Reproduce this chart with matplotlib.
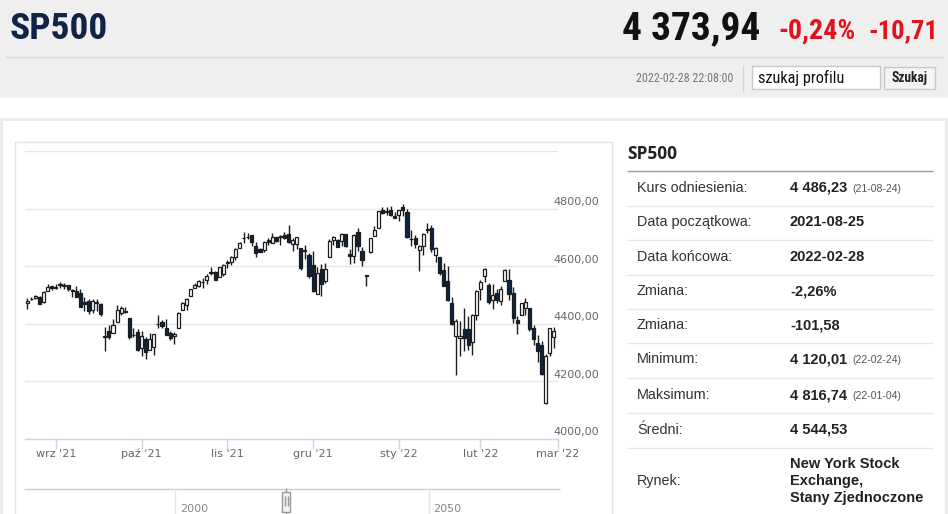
import matplotlib
matplotlib.use("Agg")
import matplotlib.pyplot as plt
from matplotlib.patches import Rectangle
from matplotlib import font_manager as fm
from matplotlib.transforms import blended_transform_factory

# ---------------- data ----------------
dates = ["2021-08-23","2021-08-24","2021-08-25","2021-08-26","2021-08-27","2021-08-30","2021-08-31",
 "2021-09-01","2021-09-02","2021-09-03","2021-09-07","2021-09-08","2021-09-09","2021-09-10","2021-09-13",
 "2021-09-14","2021-09-15","2021-09-16","2021-09-17","2021-09-20","2021-09-21","2021-09-22","2021-09-23",
 "2021-09-24","2021-09-27","2021-09-28","2021-09-29","2021-09-30",
 "2021-10-01","2021-10-04","2021-10-05","2021-10-06","2021-10-07","2021-10-08","2021-10-11","2021-10-12",
 "2021-10-13","2021-10-14","2021-10-15","2021-10-18","2021-10-19","2021-10-20","2021-10-21","2021-10-22",
 "2021-10-25","2021-10-26","2021-10-27","2021-10-28","2021-10-29",
 "2021-11-01","2021-11-02","2021-11-03","2021-11-04","2021-11-05","2021-11-08","2021-11-09","2021-11-10",
 "2021-11-11","2021-11-12","2021-11-15","2021-11-16","2021-11-17","2021-11-18","2021-11-19","2021-11-22",
 "2021-11-23","2021-11-24","2021-11-26","2021-11-29","2021-11-30",
 "2021-12-01","2021-12-02","2021-12-03","2021-12-06","2021-12-07","2021-12-08","2021-12-09","2021-12-10",
 "2021-12-13","2021-12-14","2021-12-15","2021-12-16","2021-12-17","2021-12-20","2021-12-22","2021-12-23",
 "2021-12-27","2021-12-28","2021-12-29","2021-12-30","2021-12-31",
 "2022-01-03","2022-01-04","2022-01-05","2022-01-06","2022-01-07","2022-01-10","2022-01-11","2022-01-12",
 "2022-01-13","2022-01-14","2022-01-18","2022-01-19","2022-01-20","2022-01-21","2022-01-24","2022-01-25",
 "2022-01-26","2022-01-27","2022-01-28","2022-01-31",
 "2022-02-01","2022-02-02","2022-02-03","2022-02-04","2022-02-07","2022-02-08","2022-02-09","2022-02-10",
 "2022-02-11","2022-02-14","2022-02-15","2022-02-16","2022-02-17","2022-02-18","2022-02-22","2022-02-23",
 "2022-02-24","2022-02-25","2022-02-28"]

opens = [4471.0,4484.4,4490.5,4493.8,4474.1,4513.8,4529.8,
 4528.8,4534.5,4532.4,4535.4,4518.1,4513.0,4506.9,4474.8,4479.3,4447.5,4477.1,4469.7,4355.0,4374.5,4367.4,
 4406.8,4438.0,4442.1,4419.5,4362.4,4370.7,
 4317.2,4348.8,4309.9,4319.6,4398.0,4406.5,4385.4,4368.3,4358.0,4386.8,4447.7,4463.7,4497.3,4524.4,4532.2,
 4546.1,4553.7,4578.7,4580.2,4562.8,4572.9,
 4610.6,4613.3,4630.7,4662.9,4699.3,4701.5,4707.3,4670.3,4659.4,4655.2,4689.3,4679.4,4701.5,4700.7,4708.4,
 4712.0,4678.5,4675.8,4664.6,4652.0,4640.2,
 4602.8,4504.7,4589.5,4548.4,4632.0,4690.9,4691.0,4687.6,4710.3,4642.0,4636.5,4719.1,4652.5,4565.0,4650.4,
 4704.0,4734.0,4795.5,4788.6,4794.2,4775.2,
 4778.1,4804.5,4788.0,4693.4,4697.7,4655.3,4669.1,4728.6,4733.6,4638.0,4632.2,4588.0,4547.4,4471.4,4356.3,
 4352.0,4380.6,4380.6,4336.2,4431.8,
 4519.6,4566.4,4535.4,4482.8,4505.8,4480.0,4547.0,4553.2,4506.3,4412.6,4429.3,4455.8,4456.1,4385.0,4332.7,
 4324.9,4125.0,4298.4,4354.2]

highs = [4489.9,4492.8,4501.7,4495.9,4513.3,4537.4,4531.4,
 4537.1,4545.9,4541.5,4535.4,4521.8,4529.9,4520.5,4492.0,4485.7,4486.9,4485.9,4471.5,4390.0,4394.9,4416.8,
 4465.4,4463.1,4457.3,4419.5,4385.6,4382.6,
 4375.2,4355.5,4369.2,4365.6,4430.0,4412.0,4415.9,4374.9,4372.9,4439.7,4475.8,4488.8,4520.4,4540.9,4551.4,
 4559.7,4572.6,4598.5,4584.6,4597.6,4608.1,
 4620.3,4635.2,4663.5,4683.0,4718.5,4714.9,4708.5,4684.9,4664.6,4688.5,4697.4,4715.0,4701.5,4708.8,4717.8,
 4743.8,4699.4,4702.9,4664.6,4673.0,4646.0,
 4652.9,4595.5,4608.0,4612.6,4694.0,4705.1,4695.3,4713.6,4710.3,4660.5,4712.6,4732.0,4666.7,4570.0,4697.7,
 4740.7,4791.5,4807.0,4804.1,4808.9,4786.8,
 4796.6,4816.74,4797.7,4725.0,4708.0,4673.0,4714.1,4749.0,4744.1,4665.1,4632.2,4611.6,4602.1,4494.5,4417.4,
 4411.0,4453.2,4428.7,4432.7,4516.9,
 4550.5,4595.3,4542.9,4539.7,4521.9,4531.3,4590.0,4588.9,4526.3,4426.2,4472.8,4489.5,4456.1,4394.8,4362.1,
 4341.5,4294.7,4385.3,4388.8]

lows = [4450.3,4482.7,4485.7,4469.0,4472.1,4513.8,4515.8,
 4522.0,4524.7,4521.9,4513.0,4493.9,4492.1,4457.7,4445.7,4435.5,4438.4,4443.8,4427.8,4305.9,4348.0,4367.4,
 4406.8,4430.3,4436.2,4346.3,4355.1,4306.2,
 4288.5,4278.9,4309.9,4290.5,4383.7,4386.2,4360.6,4342.1,4329.9,4386.8,4447.7,4447.5,4496.4,4524.4,4526.9,
 4524.0,4537.4,4569.2,4551.7,4562.8,4567.6,
 4595.1,4604.0,4621.2,4662.6,4681.3,4694.4,4670.9,4630.9,4648.3,4650.8,4672.9,4679.4,4684.4,4672.8,4694.2,
 4682.2,4652.7,4659.9,4585.4,4625.3,4560.0,
 4510.3,4504.7,4495.1,4540.5,4632.0,4674.5,4666.0,4670.2,4667.6,4606.5,4611.2,4651.9,4600.2,4531.1,4645.5,
 4704.0,4734.0,4780.0,4778.1,4775.3,4765.8,
 4758.2,4774.3,4699.4,4671.3,4663.7,4582.2,4638.3,4716.1,4650.3,4614.8,4568.7,4530.2,4478.0,4395.3,4222.6,
 4287.1,4304.8,4309.5,4292.5,4414.0,
 4484.0,4544.3,4470.4,4451.5,4471.5,4465.4,4547.0,4484.3,4401.4,4364.8,4429.3,4429.7,4373.8,4327.2,4267.1,
 4221.5,4120.01,4286.8,4315.1]

closes = [4479.5,4486.2,4496.2,4470.0,4509.4,4528.8,4522.7,
 4524.1,4537.0,4535.4,4520.0,4514.1,4493.3,4458.6,4468.7,4443.1,4480.7,4473.8,4433.0,4357.7,4354.2,4395.6,
 4449.0,4455.5,4443.1,4352.6,4359.5,4307.5,
 4357.0,4300.5,4345.7,4363.6,4399.8,4391.3,4361.2,4350.7,4363.8,4438.3,4471.4,4486.5,4519.6,4536.2,4549.8,
 4544.9,4566.5,4574.8,4551.7,4596.4,4605.4,
 4613.7,4630.7,4660.6,4680.1,4697.5,4701.7,4685.3,4646.7,4649.3,4682.9,4682.8,4700.9,4688.7,4704.5,4698.0,
 4682.9,4690.7,4701.5,4594.6,4655.3,4567.0,
 4513.0,4577.1,4538.4,4591.7,4686.8,4701.2,4667.5,4712.0,4669.0,4634.1,4709.9,4668.7,4620.6,4568.0,4696.6,
 4725.8,4791.2,4786.4,4793.1,4778.7,4766.2,
 4796.6,4793.5,4700.6,4696.1,4677.0,4670.3,4713.1,4726.4,4659.0,4662.9,4577.1,4532.8,4482.7,4397.9,4410.1,
 4356.5,4349.9,4326.5,4431.9,4515.6,
 4546.5,4589.4,4477.4,4500.5,4483.9,4521.5,4587.2,4504.1,4418.6,4401.7,4471.1,4475.0,4380.3,4348.9,4304.8,
 4225.5,4288.7,4384.7,4373.9]

month_labels = ["wrz '21", "paź '21", "lis '21", "gru '21", "sty '22", "lut '22", "mar '22"]
month_keys = ["2021-09", "2021-10", "2021-11", "2021-12", "2022-01", "2022-02", "2022-03"]
y_ticks = [4000, 4200, 4400, 4600, 4800]
y_grid = [4000, 4200, 4400, 4600, 4800, 5000]

table_labels = ["Kurs odniesienia:", "Data początkowa:", "Data końcowa:", "Zmiana:", "Zmiana:",
                "Minimum:", "Maksimum:", "Średni:", "Rynek:"]
table_values = ["4 486,23", "2021-08-25", "2022-02-28", "-2,26%", "-101,58",
                "4 120,01", "4 816,74", "4 544,53", "New York Stock\nExchange,\nStany Zjednoczone"]
table_notes = ["(21-08-24)", "", "", "", "", "(22-02-24)", "(22-01-04)", "", ""]

# ---------------- fonts ----------------
names = {f.name for f in fm.fontManager.ttflist}
NARROW = "Roboto"
for cand in ["Liberation Sans Narrow", "Roboto Condensed", "Open Sans Condensed", "Noto Sans Condensed",
             "DejaVu Sans Condensed", "Arial Narrow"]:
    if cand in names:
        NARROW = cand
        break
ARIAL = "Liberation Sans"
CHART = "DejaVu Sans"

W, H = 948, 514
fig = plt.figure(figsize=(W / 100, H / 100), dpi=100)
fig.patch.set_facecolor("white")
renderer = fig.canvas.get_renderer()

bg = fig.add_axes([0, 0, 1, 1], zorder=0)
bg.set_xlim(0, W)
bg.set_ylim(H, 0)
bg.axis("off")

def rect(x0, y0, x1, y1, fc="none", ec="none", lw=1, z=1):
    bg.add_patch(Rectangle((x0, y0), x1 - x0, y1 - y0, facecolor=fc, edgecolor=ec, lw=lw, zorder=z))

def hline(y, x0, x1, c, lw=1, z=2):
    bg.plot([x0, x1], [y, y], color=c, lw=lw, zorder=z, solid_capstyle="butt")

def vline(x, y0, y1, c, lw=1, z=2):
    bg.plot([x, x], [y0, y1], color=c, lw=lw, zorder=z, solid_capstyle="butt")

def fit_text(x, y, s, target_w, size, **kw):
    t = bg.text(x, y, s, fontsize=size, **kw)
    for _ in range(3):
        w = t.get_window_extent(renderer).width
        if w > 0:
            t.set_fontsize(t.get_fontsize() * target_w / w)
    return t

# header
rect(0, 0, W, 98, fc="#efefef", z=0)
hline(56.5, 5, 943, "#d6d6d6")
fit_text(10, 29, "SP500", 98, 28, fontweight="bold", family=NARROW, color="#0f2447", va="center", ha="left")
fit_text(760, 29, "4 373,94", 138, 30, fontweight="bold", family=NARROW, color="#111111", va="center", ha="right")
fit_text(778, 31, "-0,24%", 77, 20, fontweight="bold", family=NARROW, color="#e3101e", va="center", ha="left")
fit_text(938, 31, "-10,71", 70, 20, fontweight="bold", family=NARROW, color="#e3101e", va="center", ha="right")
fit_text(733, 78, "2022-02-28 22:08:00", 97, 8, family=NARROW, color="#777777", va="center", ha="right")
vline(743.5, 65, 92, "#d3d3d3")
rect(752, 66, 880, 89, fc="white", ec="#c8c8c8", lw=1, z=2)
t = fit_text(758, 77.5, "szukaj profilu", 86, 8.8, family=NARROW, color="#111111", va="center", ha="left")
t.set_zorder(3)
rect(884, 67, 935, 89, fc="#f4f4f4", ec="#c8c8c8", lw=1, z=2)
t = fit_text(909.5, 78, "Szukaj", 36, 8.8, fontweight="bold", family=NARROW, color="#222222", va="center", ha="center")
t.set_zorder(3)

# panel borders
rect(0, 118, W, 121, fc="#ececec", z=0)
rect(0, 118, 3, H, fc="#ececec", z=0)
rect(945, 118, W, H, fc="#ececec", z=0)
rect(15.5, 141.5, 612.5, H + 5, fc="none", ec="#e4e4e4", lw=1, z=1)

# right table
bg.text(627, 154, "SP500", fontsize=12.5, fontweight="bold", family="Open Sans", color="#222222", va="center", ha="left")
hline(170.5, 627, 933, "#9a9a9a", lw=1)
row_y = [188, 222, 257, 291, 325, 359, 395, 430, 481]
sep_y = [205.5, 239.5, 274.5, 308.5, 342.5, 377.5, 412.5, 447.5]
for y in sep_y:
    hline(y, 627, 933, "#e6e6e6")
for lab, val, note, y in zip(table_labels, table_values, table_notes, row_y):
    bg.text(637, y, lab, fontsize=10.4, family=ARIAL, color="#333333", va="center", ha="left")
    if "\n" in val:
        for k, line in enumerate(val.split("\n")):
            bg.text(790, y - 17 + 17 * k, line, fontsize=10.5, fontweight="bold", family=ARIAL,
                    color="#222222", va="center", ha="left")
    else:
        bg.text(790, y, val, fontsize=10.5, fontweight="bold", family=ARIAL, color="#222222",
                va="center", ha="left")
    if note:
        bg.text(852, y + 1, note, fontsize=7.5, family=ARIAL, color="#555555", va="center", ha="left")

# navigator
hline(488.5, 24, 560, "#cccccc")
vline(175.5, 488, H, "#e6e6e6")
vline(429.5, 488, H, "#e6e6e6")
bg.text(180, 509, "2000", fontsize=8, family=CHART, color="#888888", va="center", ha="left")
bg.text(433, 509, "2050", fontsize=8, family=CHART, color="#888888", va="center", ha="left")
vline(286, 488, H, "#999999", z=3)
rect(282.5, 491.5, 290.5, 511.5, fc="#f2f2f2", ec="#999999", lw=1, z=4)
vline(285, 496, 506, "#999999", z=5)
vline(288, 496, 506, "#999999", z=5)

# ---------------- chart ----------------
x_left_px, x_right_px, y_top_px, y_bot_px = 25, 558, 151, 439
ax = fig.add_axes([x_left_px / W, 1 - y_bot_px / H, (x_right_px - x_left_px) / W, (y_bot_px - y_top_px) / H],
                  zorder=2)
ax.patch.set_alpha(0)
n = len(dates)
x0_px, step_px = 27.3, 4.09
ax.set_xlim((x_left_px - x0_px) / step_px, (x_right_px - x0_px) / step_px)
ax.set_ylim(4000, 5000)

for v in y_grid:
    ax.axhline(v, color="#e6e6e6", lw=1, zorder=0)

xs = list(range(n))
up_c, down_c, edge = "white", "#0d2545", "#1c1c1c"
for i in xs:
    o, h, l, c = opens[i], highs[i], lows[i], closes[i]
    ax.vlines(i, l, h, color=edge, lw=1.0, zorder=2)
    lo, hi = min(o, c), max(o, c)
    ax.bar(i, max(hi - lo, 0.8), bottom=lo, width=0.76, color=up_c if c >= o else down_c,
           edgecolor=edge, lw=0.9, zorder=3)

for s in ["top", "right", "left"]:
    ax.spines[s].set_visible(False)
ax.spines["bottom"].set_color("#ccd6eb")
ax.spines["bottom"].set_linewidth(1)
ax.spines["bottom"].set_zorder(4)

tick_pos = []
for key in month_keys:
    idx = next((i for i, d in enumerate(dates) if d.startswith(key)), n)
    tick_pos.append(idx)
ax.set_xticks(tick_pos)
ax.set_xticklabels(month_labels, family=CHART, fontsize=8, color="#666666")
ax.tick_params(axis="x", direction="out", length=7.5, width=1, color="#ccd6eb", pad=-0.5)
ax.set_yticks([])

tr = blended_transform_factory(ax.transAxes, ax.transData)
lab_x = (553 - x_left_px) / (x_right_px - x_left_px)
for v in y_ticks:
    ax.annotate(f"{v},00", xy=(lab_x, v), xycoords=tr, xytext=(0, 1.5), textcoords="offset pixels",
                fontsize=8, family=CHART, color="#666666", ha="left", va="bottom", annotation_clip=False)

fig.savefig("out.png", dpi=100, facecolor="white")
